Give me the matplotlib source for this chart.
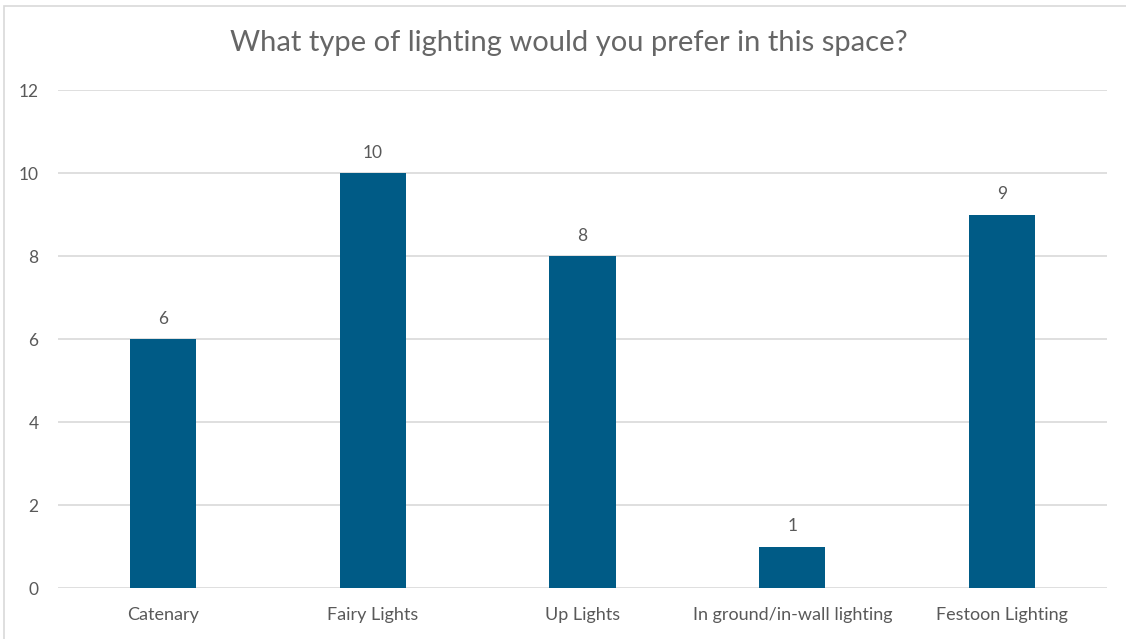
import matplotlib.pyplot as plt
from matplotlib.patches import Rectangle

categories = ['Catenary', 'Fairy Lights', 'Up Lights', 'In ground/in-wall lighting', 'Festoon Lighting']
counts = [6, 10, 8, 1, 9]
y_ticks = [0, 2, 4, 6, 8, 10, 12]

bar_color = '#005B86'
text_color = '#595959'
grid_color = '#D9D9D9'

plt.rcParams['font.family'] = ['Lato', 'DejaVu Sans']

fig = plt.figure(figsize=(11.26, 6.39), dpi=100)
ax = fig.add_axes([0.0515, 0.0798, 0.9316, 0.7793])

x = list(range(len(categories)))
bars = ax.bar(x, counts, width=0.315, color=bar_color, zorder=3)

for b, v in zip(bars, counts):
    ax.annotate(str(v), (b.get_x() + b.get_width() / 2, v), xytext=(0, 9),
                textcoords='offset points', ha='center', va='bottom',
                fontsize=12.5, color=text_color)

ax.set_xlim(-0.5, len(categories) - 0.5)
ax.set_ylim(0, 12)
ax.set_yticks(y_ticks)
ax.set_xticks(x)
ax.set_xticklabels(categories, fontsize=13)
ax.yaxis.grid(True, color=grid_color, linewidth=1.2, zorder=0)
ax.tick_params(axis='both', length=0, colors=text_color)
ax.tick_params(axis='y', pad=14, labelsize=12.5)
ax.tick_params(axis='x', pad=14)
for s in ax.spines.values():
    s.set_visible(False)

fig.text(0.5053, 0.932, 'What type of lighting would you prefer in this space?',
         ha='center', va='center', fontsize=21, color='#666666')

# outer chart frame
fig.patches.append(Rectangle((4 / 1126, -0.1), 1.2, 0.1 + (639 - 6) / 639,
                             transform=fig.transFigure, fill=False,
                             edgecolor=grid_color, linewidth=1.2))

fig.savefig('out.png', dpi=100)
